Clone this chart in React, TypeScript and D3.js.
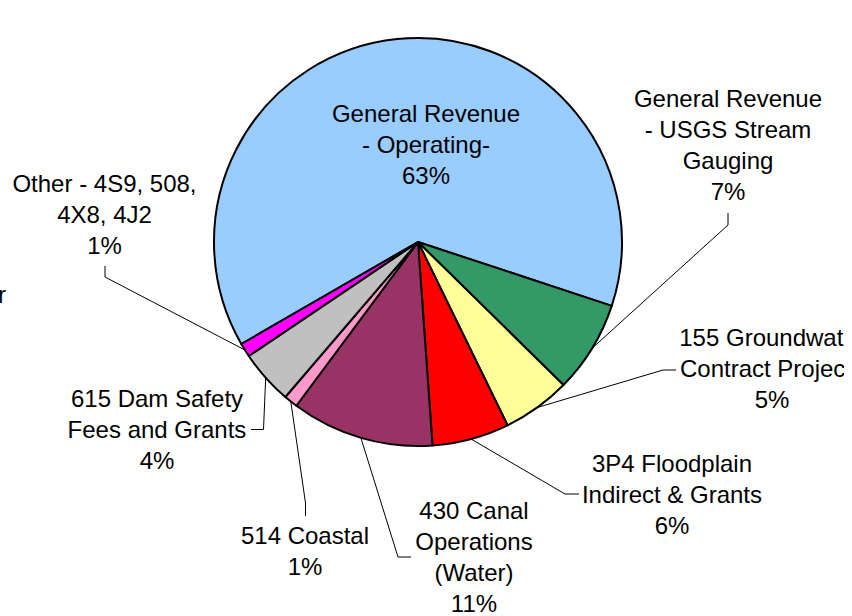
import React from "react";
import * as d3 from "d3";

const categories = [
  ["General Revenue", "- Operating-"],
  ["General Revenue", "- USGS Stream", "Gauging"],
  ["155 Groundwater", "Contract Projects"],
  ["3P4 Floodplain", "Indirect & Grants"],
  ["430 Canal", "Operations", "(Water)"],
  ["514 Coastal"],
  ["615 Dam Safety", "Fees and Grants"],
  ["Other - 4S9, 508,", "4X8, 4J2"],
];
const values = [63.4, 7.3, 5.4, 6.1, 11.3, 1.1, 4.3, 1.1];
const colors = ["#99CCFF", "#339966", "#FFFF99", "#FF0000", "#993366", "#FF99CC", "#C0C0C0", "#FF00FF"];

// label layout: text center x, first baseline y, leader knee and end (null = inside)
const labelLayout = [
  { x: 426, y: 122, knee: null, end: null },
  { x: 728, y: 107, knee: [728, 225], end: [728, 213] },
  { x: 772, y: 346, knee: [663, 370], end: [676, 370] },
  { x: 672, y: 472, knee: [565, 494], end: [579, 494] },
  { x: 474, y: 519, knee: [398, 557], end: [411, 557] },
  { x: 305, y: 544, knee: [305.5, 503], end: [305.5, 516] },
  { x: 157, y: 407, knee: [263.5, 429.5], end: [251, 429.5] },
  { x: 104.5, y: 192, knee: [105, 277], end: [105, 266] },
];

const W = 852;
const H = 616;
const clipW = 844;
const cx = 418;
const cy = 242;
const R = 204;
const lineH = 31;
const font = "'Liberation Sans', Arial, sans-serif";

export default function App() {
  const total = d3.sum(values);
  const pie = d3
    .pie<number>()
    .sort(null)
    .value((d) => d)
    .startAngle((-120 * Math.PI) / 180)
    .endAngle((240 * Math.PI) / 180);
  const arcs = pie(values);
  const arc = d3.arc<d3.PieArcDatum<number>>().innerRadius(0).outerRadius(R);

  return (
    <svg
      width={W}
      height={H}
      style={{ position: "absolute", left: 0, top: 0, background: "#fff" }}
    >
      <defs>
        <clipPath id="chartClip">
          <rect x={0} y={0} width={clipW} height={H} />
        </clipPath>
      </defs>
      <g clipPath="url(#chartClip)">
        <g transform={`translate(${cx},${cy})`}>
          {arcs.map((a, i) => (
            <path key={i} d={arc(a) || ""} fill={colors[i]} stroke="#000" strokeWidth={2} strokeLinejoin="round" />
          ))}
        </g>
        {arcs.map((a, i) => {
          const L = labelLayout[i];
          if (!L.knee || !L.end) return null;
          const mid = (a.startAngle + a.endAngle) / 2;
          const sx = cx + R * Math.sin(mid);
          const sy = cy - R * Math.cos(mid);
          const pts: [number, number][] = [[sx, sy], L.knee as [number, number], L.end as [number, number]];
          return <path key={"l" + i} d={d3.line()(pts) || ""} fill="none" stroke="#000" strokeWidth={1} />;
        })}
        {arcs.map((a, i) => {
          const L = labelLayout[i];
          const lines = [...categories[i], `${Math.round((values[i] / total) * 100)}%`];
          return (
            <text key={"t" + i} x={L.x} y={L.y} textAnchor="middle" fontFamily={font} fontSize={24} fill="#000">
              {lines.map((s, j) => (
                <tspan key={j} x={L.x} y={L.y + j * lineH}>
                  {s}
                </tspan>
              ))}
            </text>
          );
        })}
        <text x={-2} y={303} fontFamily={font} fontSize={24} fill="#000">
          r
        </text>
      </g>
    </svg>
  );
}
